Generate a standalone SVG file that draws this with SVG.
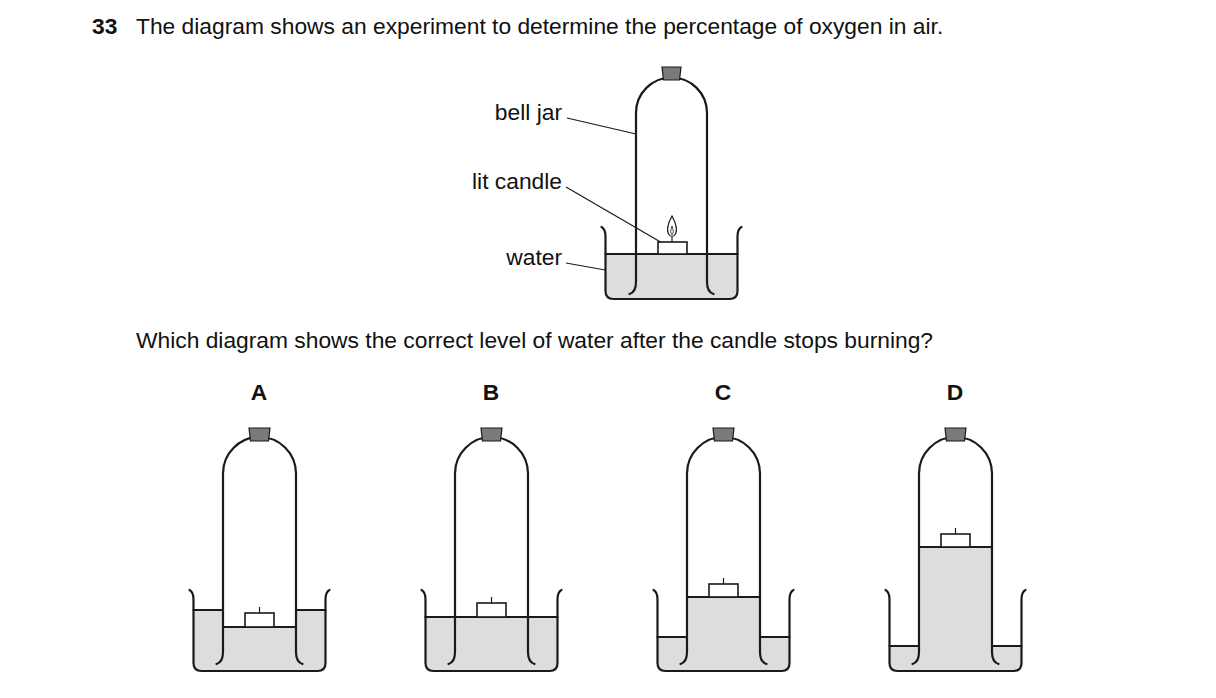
<svg xmlns="http://www.w3.org/2000/svg" width="1216" height="698" viewBox="0 0 1216 698">
<style>
text{font-family:"Liberation Sans",Arial,sans-serif;font-size:22.8px;fill:#111}
.b{font-weight:bold}
.ln{fill:none;stroke:#1a1a1a;stroke-width:2.2;stroke-linecap:round}
.th{fill:none;stroke:#1a1a1a;stroke-width:1.2}
.w{fill:#dcddde}
.cap{fill:#7a7a7a;stroke:#1a1a1a;stroke-width:1.2}
.cd{fill:#fff;stroke:#1a1a1a;stroke-width:1.6}
</style>
<rect width="1216" height="698" fill="#fff"/>
<text x="92" y="34" class="b">33</text>
<text x="136" y="34">The diagram shows an experiment to determine the percentage of oxygen in air.</text>
<text x="136" y="348">Which diagram shows the correct level of water after the candle stops burning?</text>
<g id="labels">
<text x="562" y="120" text-anchor="end">bell jar</text>
<text x="562" y="189" text-anchor="end">lit candle</text>
<text x="562" y="265" text-anchor="end">water</text>
</g>
<g id="connectors">
<line class="th" x1="567" y1="118" x2="636" y2="134"/>
<line class="th" x1="566" y1="187" x2="664" y2="244"/>
<line class="th" x1="566" y1="263" x2="622" y2="273"/>
</g>
<g id="main" transform="translate(671.5,0)">
<path class="w" d="M-66,254 H66 V291 Q66,299 58,299 H-58 Q-66,299 -66,291Z"/>
<line class="ln" x1="-66" y1="254" x2="66" y2="254"/>
<rect class="cd" x="-13.5" y="242" width="29" height="12"/>
<path d="M0.5,216 Q-6,228 -3,234 Q0.5,239 4,234 Q7,228 0.5,216Z" fill="#fff" stroke="#1a1a1a" stroke-width="1.2"/>
<path d="M0.5,226 Q-2,232 0.5,235 Q3,232 0.5,226Z" fill="none" stroke="#1a1a1a" stroke-width="0.8"/>
<line class="th" x1="0.5" y1="237" x2="0.5" y2="242"/>
<path class="ln" d="M-42,294 Q-35.5,292 -35.5,282 V113 A35.5,35.5 0 0 1 35.5,113 V282 Q35.5,292 42,294"/>
<path class="cap" d="M-9.5,67 H9.5 L8,80 H-8Z"/>
<path class="ln" d="M-70,227 Q-66,229 -66,237 V291 Q-66,299 -58,299 H58 Q66,299 66,291 V237 Q66,229 70,227"/>
</g>
<g>
<text x="259" y="400" text-anchor="middle" class="b">A</text>
<text x="491" y="400" text-anchor="middle" class="b">B</text>
<text x="723" y="400" text-anchor="middle" class="b">C</text>
<text x="955" y="400" text-anchor="middle" class="b">D</text>
</g>
<g id="A" transform="translate(259.5,0)">
<path class="w" d="M-66,610 H66 V663 Q66,671 58,671 H-58 Q-66,671 -66,663Z"/>
<rect x="-36.5" y="609" width="73" height="18" fill="#fff"/>
<line class="ln" x1="-66" y1="610" x2="-36.5" y2="610"/><line class="ln" x1="36.5" y1="610" x2="66" y2="610"/>
<line class="ln" x1="-36.5" y1="627" x2="36.5" y2="627"/>
<rect class="cd" x="-14.5" y="613" width="29" height="14"/><line class="th" x1="0" y1="607" x2="0" y2="613"/>
<path class="ln" d="M-43,664 Q-36.5,662 -36.5,652 V473.5 A36.5,36.5 0 0 1 36.5,473.5 V652 Q36.5,662 43,664"/>
<path class="cap" d="M-10.5,428 H10.5 L9,441 H-9Z"/>
<path class="ln" d="M-70,590 Q-66,592 -66,600 V663 Q-66,671 -58,671 H58 Q66,671 66,663 V600 Q66,592 70,590"/>
</g>
<g id="B" transform="translate(491.5,0)">
<path class="w" d="M-66,617 H66 V663 Q66,671 58,671 H-58 Q-66,671 -66,663Z"/>
<line class="ln" x1="-66" y1="617" x2="66" y2="617"/>
<rect class="cd" x="-14.5" y="603" width="29" height="14"/><line class="th" x1="0" y1="597" x2="0" y2="603"/>
<path class="ln" d="M-43,664 Q-36.5,662 -36.5,652 V473.5 A36.5,36.5 0 0 1 36.5,473.5 V652 Q36.5,662 43,664"/>
<path class="cap" d="M-10.5,428 H10.5 L9,441 H-9Z"/>
<path class="ln" d="M-70,590 Q-66,592 -66,600 V663 Q-66,671 -58,671 H58 Q66,671 66,663 V600 Q66,592 70,590"/>
</g>
<g id="C" transform="translate(723.5,0)">
<path class="w" d="M-66,637 H66 V663 Q66,671 58,671 H-58 Q-66,671 -66,663Z"/>
<rect class="w" x="-36.5" y="597" width="73" height="41"/>
<line class="ln" x1="-66" y1="637" x2="-36.5" y2="637"/><line class="ln" x1="36.5" y1="637" x2="66" y2="637"/>
<line class="ln" x1="-36.5" y1="597" x2="36.5" y2="597"/>
<rect class="cd" x="-14.5" y="584" width="29" height="13"/><line class="th" x1="0" y1="578" x2="0" y2="584"/>
<path class="ln" d="M-43,664 Q-36.5,662 -36.5,652 V473.5 A36.5,36.5 0 0 1 36.5,473.5 V652 Q36.5,662 43,664"/>
<path class="cap" d="M-10.5,428 H10.5 L9,441 H-9Z"/>
<path class="ln" d="M-70,590 Q-66,592 -66,600 V663 Q-66,671 -58,671 H58 Q66,671 66,663 V600 Q66,592 70,590"/>
</g>
<g id="D" transform="translate(955.5,0)">
<path class="w" d="M-66,646 H66 V663 Q66,671 58,671 H-58 Q-66,671 -66,663Z"/>
<rect class="w" x="-36.5" y="547" width="73" height="100"/>
<line class="ln" x1="-66" y1="646" x2="-36.5" y2="646"/><line class="ln" x1="36.5" y1="646" x2="66" y2="646"/>
<line class="ln" x1="-36.5" y1="547" x2="36.5" y2="547"/>
<rect class="cd" x="-14.5" y="534" width="29" height="13"/><line class="th" x1="0" y1="528" x2="0" y2="534"/>
<path class="ln" d="M-43,664 Q-36.5,662 -36.5,652 V473.5 A36.5,36.5 0 0 1 36.5,473.5 V652 Q36.5,662 43,664"/>
<path class="cap" d="M-10.5,428 H10.5 L9,441 H-9Z"/>
<path class="ln" d="M-70,590 Q-66,592 -66,600 V663 Q-66,671 -58,671 H58 Q66,671 66,663 V600 Q66,592 70,590"/>
</g>
</svg>
